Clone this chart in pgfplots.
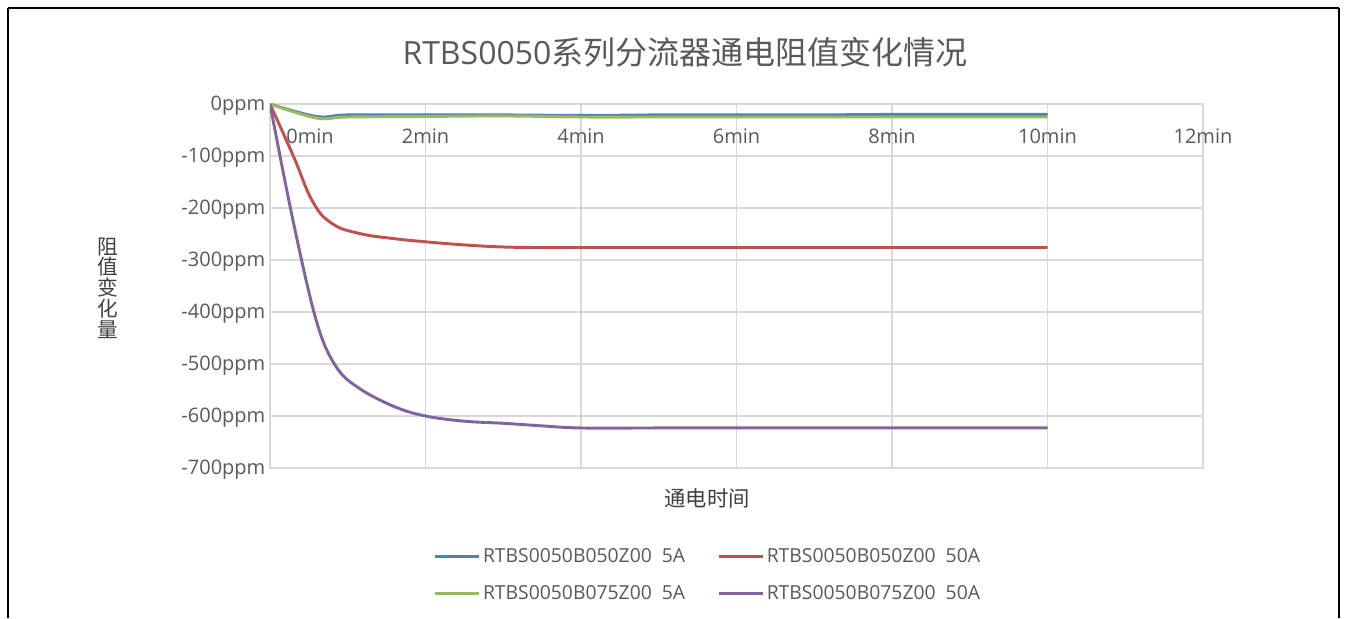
\documentclass[border=0pt]{standalone}
\usepackage{pgfplots}
\pgfplotsset{compat=1.18}
\usepackage{pgfplotstable}
\usepackage{fontspec}
\setmainfont{Open Sans}
\newfontfamily\cjk{Noto Sans CJK SC}
\definecolor{cblue}{HTML}{4F81BD}
\definecolor{cred}{HTML}{C0504D}
\definecolor{cgreen}{HTML}{9BBB59}
\definecolor{cpurple}{HTML}{8064A2}
\definecolor{txt}{HTML}{595959}
\definecolor{dtxt}{HTML}{404040}
\definecolor{gridc}{HTML}{D9D9D9}

\pgfplotstableread{
t v
0 0
0.6 -24
1 -21
2 -21
3 -21
4 -22
5 -21
6 -21
7 -21
8 -20
9 -20
10 -20
}\blueA
\pgfplotstableread{
t v
0 0
0.3 -100
0.55 -188
0.8 -230
1.15 -249
1.6 -259
2 -265
2.5 -271
3 -275
3.5 -276
4 -276
5 -276
6 -276
7 -276
8 -276
9 -276
10 -276
}\redA
\pgfplotstableread{
t v
0 0
0.6 -27
1 -25
2 -24
3 -23
4 -25
5 -25
6 -25
7 -25
8 -25
9 -25
10 -25
}\greenA
\pgfplotstableread{
t v
0 0
0.3 -227
0.6 -419
0.85 -505
1.15 -547
1.6 -582
2 -600
2.5 -610
3 -614
3.5 -619
4 -623
5 -623
6 -623
7 -623
8 -623
9 -623
10 -623
}\purpleA

\begin{document}
\begin{tikzpicture}[x=0.75pt,y=0.75pt]
\path[use as bounding box] (0,0) rectangle (1349,618);
\fill[white] (0,0) rectangle (1349,618);
\draw[black, line width=1.5pt] (8,0) -- (8,610);
\draw[black, line width=1.1pt] (8,610) -- (1339,610);
\draw[black, line width=0.8pt] (1339,610) -- (1339,0);
\node[text=txt, font=\fontsize{24}{28}\selectfont] at (685,566) {RTBS0050{\cjk 系列分流器通电阻值变化情况}};
\node[text=dtxt, font=\cjk\fontsize{15.5}{15.6}\selectfont, align=center] at (108,330) {阻\\值\\变\\化\\量};
\node[text=dtxt, font=\cjk\fontsize{16}{18}\selectfont] at (707,120) {通电时间};
\begin{axis}[
  at={(202.5pt,112.5pt)}, anchor=south west,
  width=699.75pt, height=273pt, scale only axis,
  xmin=0, xmax=12, ymin=-700, ymax=0,
  xtick={0,2,4,6,8,10,12},
  xticklabels={{\hspace*{60pt}0min},2min,4min,6min,8min,10min,12min},
  ytick={-700,-600,-500,-400,-300,-200,-100,0},
  yticklabels={-700ppm,-600ppm,-500ppm,-400ppm,-300ppm,-200ppm,-100ppm,0ppm},
  xticklabel pos=upper,
  xticklabel style={anchor=center, yshift=-24pt, font=\fontsize{15}{18}\selectfont, text=txt},
  yticklabel style={font=\fontsize{15}{18}\selectfont, text=txt, yshift=-1.5pt},
  major tick length=0pt,
  grid=major,
  major grid style={draw=gridc, line width=0.9pt},
  axis line style={draw=gridc, line width=0.9pt},
  legend columns=2,
  legend style={draw=none, fill=none, at={(0.4695,-0.294)}, anchor=center,
    font=\fontsize{14.5}{17}\selectfont, text=txt,
    /tikz/every even column/.append style={column sep=22pt},
    row sep=12pt},
  legend image code/.code={\draw[#1] (0pt,0pt) -- (33pt,0pt);},
]
\addplot[cblue, line width=2.2pt, smooth, tension=0.6] table[x=t,y=v] {\blueA};
\addlegendentry{RTBS0050B050Z00\ \ 5A}
\addplot[cred, line width=2.2pt, smooth, tension=0.7] table[x=t,y=v] {\redA};
\addlegendentry{RTBS0050B050Z00\ \ 50A}
\addplot[cgreen, line width=2.2pt, smooth, tension=0.6] table[x=t,y=v] {\greenA};
\addlegendentry{RTBS0050B075Z00\ \ 5A}
\addplot[cpurple, line width=2.2pt, smooth, tension=0.6] table[x=t,y=v] {\purpleA};
\addlegendentry{RTBS0050B075Z00\ \ 50A}
\end{axis}
\end{tikzpicture}
\end{document}
